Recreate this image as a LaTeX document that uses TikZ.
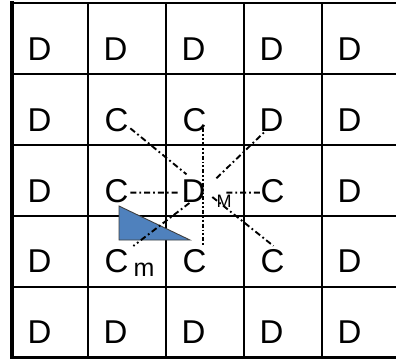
\documentclass[tikz,border=0pt]{standalone}
\usepackage{fontspec}
\setmainfont{Liberation Sans}
\definecolor{triblue}{HTML}{4F81BD}
\begin{document}
\begin{tikzpicture}[x=1pt,y=-1pt,
  cell/.style={anchor=base west,inner sep=0pt,outer sep=0pt,font=\fontsize{33}{40}\selectfont},
  small/.style={anchor=base west,inner sep=0pt,outer sep=0pt},
  gridline/.style={line width=1.6pt},
  dashdot/.style={line width=1.9pt,dash pattern=on 6pt off 3pt on 1.8pt off 3pt},
  dashdotdot/.style={line width=2.3pt,dash pattern=on 4pt off 2pt on 1.8pt off 2pt on 1.8pt off 2pt}]
\useasboundingbox (0,0) rectangle (396,360);
\fill[white] (0,0) rectangle (396,360);

% table rules
\foreach \x in {88,166,244,322} \draw[gridline] (\x,3) -- (\x,357);
\foreach \y in {74,145,216,287} \draw[gridline] (12,\y) -- (396,\y);
\draw[line width=2pt] (11,3) -- (396,3);
\draw[line width=3pt] (11,357) -- (396,357);
\draw[line width=4pt] (12,1) -- (12,358.5);

% blue wedge
\filldraw[fill=triblue,draw=black!75,line width=0.9pt] (119,206) -- (119,240) -- (190,240) -- cycle;

% cell letters: row r, column c
\node[cell] (d11) at (27.5,60) {D};
\node[cell] (d12) at (103.5,60) {D};
\node[cell] (d13) at (181.5,60) {D};
\node[cell] (d14) at (259.5,60) {D};
\node[cell] (d15) at (337.5,60) {D};

\node[cell] (d21) at (27.5,131) {D};
\node[cell] (c22) at (104.5,131) {C};
\node[cell] (c23) at (182.5,131) {C};
\node[cell] (d24) at (259.5,131) {D};
\node[cell] (d25) at (337.5,131) {D};

\node[cell] (d31) at (27.5,202) {D};
\node[cell] (c32) at (104.5,202) {C};
\node[cell] (d33) at (181.5,202) {D};
\node[cell] (c34) at (260.5,202) {C};
\node[cell] (d35) at (337.5,202) {D};

\node[cell] (d41) at (27.5,272) {D};
\node[cell] (c42) at (104.5,272) {C};
\node[cell] (c43) at (182.5,272) {C};
\node[cell] (c44) at (260.5,272) {C};
\node[cell] (d45) at (337.5,272) {D};

\node[cell] (d51) at (27.5,343) {D};
\node[cell] (d52) at (103.5,343) {D};
\node[cell] (d53) at (181.5,343) {D};
\node[cell] (d54) at (259.5,343) {D};
\node[cell] (d55) at (337.5,343) {D};

\node[small,font=\fontsize{25}{30}\selectfont] (lm) at (133.5,276) {m};
\node[small,font=\fontsize{18}{22}\selectfont] (lM) at (216.5,207) {M};

% rays from the central D
\draw[dashdot] ([shift={(2,2)}]c32.east) -- ([shift={(-2,2)}]d33.west);
\draw[dashdot] ([shift={(21,2)}]d33.east) -- ([shift={(2,2)}]c34.west);
\draw[dashdot] ([shift={(2,-3)}]c22.south east) -- ([shift={(5,-5)}]d33.north west);
\draw[dashdot] ([shift={(11,-1)}]d33.north east) -- ([shift={(7,-1)}]d24.south west);
\draw[dashdot] ([shift={(7,-5)}]d33.south east) -- ([shift={(1,-3)}]c44.north);
\draw[dashdot] ([shift={(-4,1)}]d33.south) -- ([shift={(5,-3)}]c42.north east);
\draw[dashdotdot] ([shift={(-3,-3)}]c23.south east) -- ([shift={(-3,-3)}]c43.north east);
\end{tikzpicture}
\end{document}
